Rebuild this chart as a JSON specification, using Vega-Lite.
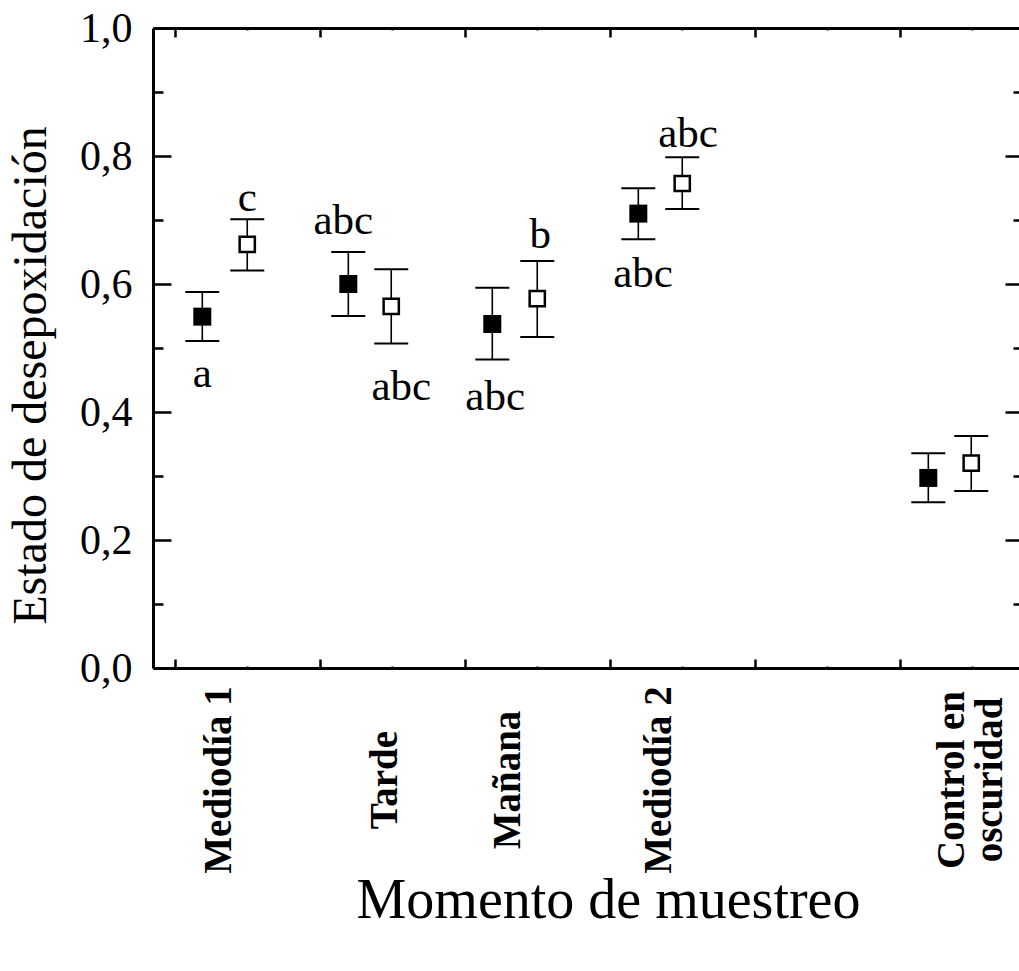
{
  "$schema": "https://vega.github.io/schema/vega-lite/v6.json",
  "width": 866,
  "height": 640,
  "autosize": {"type": "none"},
  "padding": {"left": 153, "top": 28, "right": 0, "bottom": 303},
  "background": "white",
  "config": {
    "view": {"stroke": null},
    "font": "Liberation Serif",
    "axis": {"domainColor": "black", "tickColor": "black", "labelColor": "black", "titleColor": "black", "grid": false}
  },
  "datasets": {
    "points": [
      {"moment": "Mediodía 1", "series": "filled", "x": 0.69, "mean": 0.549, "lo": 0.511, "hi": 0.5875},
      {"moment": "Mediodía 1", "series": "open", "x": 1.0, "mean": 0.662, "lo": 0.621, "hi": 0.701},
      {"moment": "Tarde", "series": "filled", "x": 1.697, "mean": 0.6, "lo": 0.55, "hi": 0.65},
      {"moment": "Tarde", "series": "open", "x": 1.993, "mean": 0.565, "lo": 0.507, "hi": 0.623},
      {"moment": "Mañana", "series": "filled", "x": 2.69, "mean": 0.5375, "lo": 0.482, "hi": 0.594},
      {"moment": "Mañana", "series": "open", "x": 3.0, "mean": 0.577, "lo": 0.517, "hi": 0.636},
      {"moment": "Mediodía 2", "series": "filled", "x": 3.697, "mean": 0.71, "lo": 0.67, "hi": 0.7495},
      {"moment": "Mediodía 2", "series": "open", "x": 4.0, "mean": 0.757, "lo": 0.717, "hi": 0.798},
      {"moment": "Control en oscuridad", "series": "filled", "x": 5.697, "mean": 0.297, "lo": 0.259, "hi": 0.3354},
      {"moment": "Control en oscuridad", "series": "open", "x": 5.993, "mean": 0.32, "lo": 0.2766, "hi": 0.3625}
    ],
    "letters": [
      {"label": "a", "lx": 0.69, "ly": 0.439},
      {"label": "c", "lx": 1.0, "ly": 0.714},
      {"label": "abc", "lx": 1.662, "ly": 0.678},
      {"label": "abc", "lx": 2.062, "ly": 0.419},
      {"label": "abc", "lx": 2.71, "ly": 0.403},
      {"label": "b", "lx": 3.02, "ly": 0.656},
      {"label": "abc", "lx": 3.73, "ly": 0.595},
      {"label": "abc", "lx": 4.04, "ly": 0.814}
    ],
    "cats": [
      {"name": "Mediodía 1", "cx": 0.888},
      {"name": "Tarde", "cx": 2.034},
      {"name": "Mañana", "cx": 2.883},
      {"name": "Mediodía 2", "cx": 3.924},
      {"name": "Control en\noscuridad", "cx": 5.945}
    ]
  },
  "resolve": {"axis": {"x": "independent", "y": "independent"}},
  "layer": [
    {
      "data": {"name": "points"},
      "mark": {"type": "rule", "color": "black", "strokeWidth": 1.6},
      "encoding": {
        "x": {"field": "x", "type": "quantitative", "scale": {"domain": [0.35, 6.3224], "nice": false, "zero": false},
          "axis": {"orient": "bottom", "values": [0.5, 1.5, 2.5, 3.5, 4.5, 5.5], "labels": false, "tickSize": -9, "tickWidth": 2.5, "domainWidth": 3,
            "title": "Momento de muestreo", "titleFont": "Liberation Serif", "titleFontSize": 56, "titleFontWeight": "normal",
            "titleX": 455, "titleY": 249, "titleAlign": "center", "titleBaseline": "alphabetic"}},
        "y": {"field": "lo", "type": "quantitative", "scale": {"domain": [0, 1], "nice": false, "zero": false},
          "axis": {"orient": "left", "values": [0, 0.2, 0.4, 0.6, 0.8, 1.0], "tickSize": -18, "tickWidth": 2.5, "domainWidth": 3,
            "labelFont": "Liberation Serif", "labelFontSize": 42, "labelPadding": 39, "labelOverlap": false, "labelFlush": false,
            "labelExpr": "replace(format(datum.value, '.1f'), '.', ',')",
            "title": "Estado de desepoxidación", "titleFont": "Liberation Serif", "titleFontSize": 48, "titleFontWeight": "normal",
            "titleAngle": 270, "titleX": -108, "titleY": 347, "titleAlign": "center", "titleBaseline": "alphabetic"}},
        "y2": {"field": "hi"}
      }
    },
    {
      "data": {"name": "points"},
      "mark": {"type": "tick", "orient": "horizontal", "size": 34, "thickness": 2, "color": "black", "opacity": 1},
      "encoding": {
        "x": {"field": "x", "type": "quantitative", "scale": {"domain": [0.35, 6.3224], "nice": false, "zero": false},
          "axis": {"orient": "bottom", "values": [1, 2, 3, 4, 5, 6], "labels": false, "domain": false, "tickSize": -2, "tickWidth": 2, "title": null}},
        "y": {"field": "lo", "type": "quantitative", "scale": {"domain": [0, 1], "nice": false, "zero": false},
          "axis": {"orient": "left", "values": [0.1, 0.3, 0.5, 0.7, 0.9], "labels": false, "domain": false, "tickSize": -10, "tickWidth": 2.5, "title": null}}
      }
    },
    {
      "data": {"name": "points"},
      "mark": {"type": "tick", "orient": "horizontal", "size": 34, "thickness": 2, "color": "black", "opacity": 1},
      "encoding": {
        "x": {"field": "x", "type": "quantitative", "scale": {"domain": [0.35, 6.3224], "nice": false, "zero": false},
          "axis": {"orient": "top", "values": [0.5, 1.5, 2.5, 3.5, 4.5, 5.5], "labels": false, "domain": true, "domainWidth": 3, "tickSize": -9, "tickWidth": 2.5, "title": null}},
        "y": {"field": "hi", "type": "quantitative", "scale": {"domain": [0, 1], "nice": false, "zero": false},
          "axis": {"orient": "right", "values": [0, 0.2, 0.4, 0.6, 0.8, 1.0], "labels": false, "domain": false, "tickSize": -14, "tickWidth": 2.5, "title": null}}
      }
    },
    {
      "data": {"name": "points"},
      "transform": [{"filter": "datum.series === 'filled'"}],
      "mark": {"type": "point", "shape": "square", "filled": true, "color": "black", "size": 324, "opacity": 1},
      "encoding": {
        "x": {"field": "x", "type": "quantitative", "scale": {"domain": [0.35, 6.3224], "nice": false, "zero": false},
          "axis": {"orient": "top", "values": [1, 2, 3, 4, 5, 6], "labels": false, "domain": false, "tickSize": -2, "tickWidth": 2, "title": null}},
        "y": {"field": "mean", "type": "quantitative", "scale": {"domain": [0, 1], "nice": false, "zero": false},
          "axis": {"orient": "right", "values": [0.1, 0.3, 0.5, 0.7, 0.9], "labels": false, "domain": false, "tickSize": -6, "tickWidth": 2.5, "title": null}}
      }
    },
    {
      "data": {"name": "points"},
      "transform": [{"filter": "datum.series === 'open'"}],
      "mark": {"type": "point", "shape": "square", "filled": true, "fill": "white", "stroke": "black", "strokeWidth": 2.5, "size": 231, "opacity": 1},
      "encoding": {
        "x": {"field": "x", "type": "quantitative", "scale": {"domain": [0.35, 6.3224], "nice": false, "zero": false}, "axis": null},
        "y": {"field": "mean", "type": "quantitative", "scale": {"domain": [0, 1], "nice": false, "zero": false}, "axis": null}
      }
    },
    {
      "data": {"name": "letters"},
      "mark": {"type": "text", "font": "Liberation Serif", "fontSize": 43, "align": "center", "baseline": "alphabetic", "color": "black"},
      "encoding": {
        "x": {"field": "lx", "type": "quantitative", "scale": {"domain": [0.35, 6.3224], "nice": false, "zero": false}, "axis": null},
        "y": {"field": "ly", "type": "quantitative", "scale": {"domain": [0, 1], "nice": false, "zero": false}, "axis": null},
        "text": {"field": "label"}
      }
    },
    {
      "data": {"name": "cats"},
      "mark": {"type": "text", "font": "Liberation Serif", "fontWeight": "bold", "fontSize": 39, "angle": 270, "align": "center", "baseline": "alphabetic", "lineBreak": "\n", "lineHeight": 38, "color": "black"},
      "encoding": {
        "x": {"field": "cx", "type": "quantitative", "scale": {"domain": [0.35, 6.3224], "nice": false, "zero": false}, "axis": null},
        "y": {"datum": -0.175, "type": "quantitative", "scale": {"domain": [0, 1], "nice": false, "zero": false}, "axis": null},
        "text": {"field": "name"}
      }
    }
  ]
}
